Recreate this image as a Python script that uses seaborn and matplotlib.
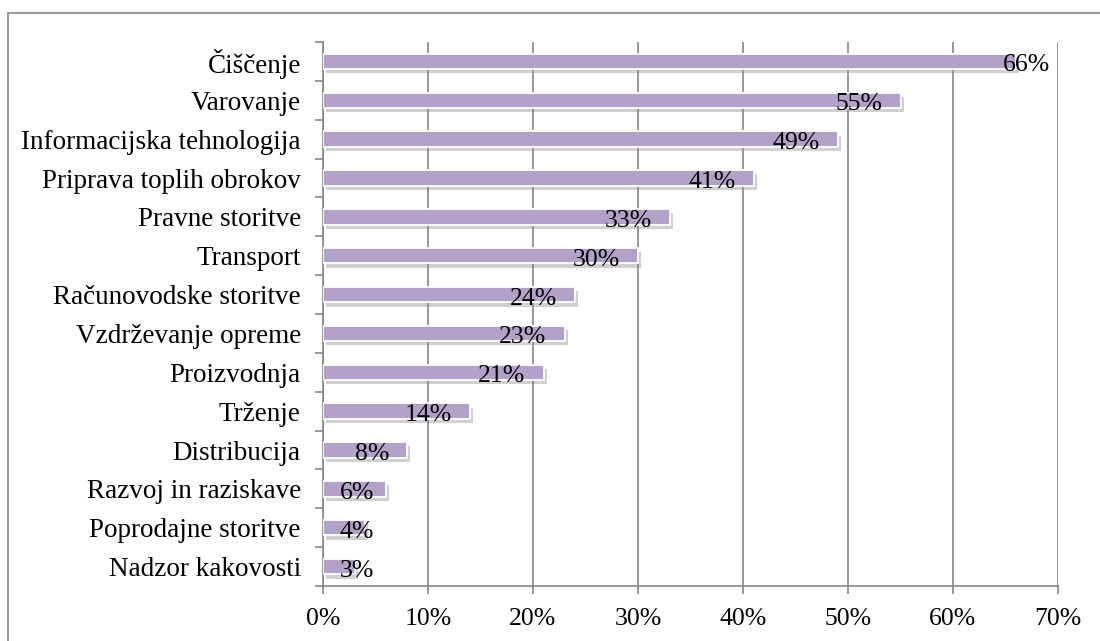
import matplotlib
matplotlib.use("Agg")
import matplotlib.pyplot as plt
import matplotlib.patheffects as pe
from matplotlib.patches import Rectangle
from matplotlib.ticker import FixedLocator, PercentFormatter, NullFormatter
import seaborn as sns
import pandas as pd

categories = ["Čiščenje", "Varovanje", "Informacijska tehnologija",
              "Priprava toplih obrokov", "Pravne storitve", "Transport",
              "Računovodske storitve", "Vzdrževanje opreme", "Proizvodnja",
              "Trženje", "Distribucija", "Razvoj in raziskave",
              "Poprodajne storitve", "Nadzor kakovosti"]
values = [66, 55, 49, 41, 33, 30, 24, 23, 21, 14, 8, 6, 4, 3]
x_ticks = [0, 10, 20, 30, 40, 50, 60, 70]

df = pd.DataFrame({"cat": categories, "val": values})

sns.set_theme(style="white")
plt.rcParams["font.family"] = ["Liberation Serif", "DejaVu Serif"]

fig = plt.figure(figsize=(11, 6.41), dpi=100)
ax = fig.add_axes([323/1100, 1 - 586/641, (1058-323)/1100, (586-42)/641])

GRID = "#868686"
BAR = "#B3A2C7"

sns.barplot(data=df, x="val", y="cat", orient="h", color=BAR, width=0.40,
            saturation=1, ax=ax, zorder=3, edgecolor="white", linewidth=1.3)

for p in ax.patches:
    p.set_path_effects([pe.SimplePatchShadow(offset=(2.5, -3), shadow_rgbFace="#8a8a8a", alpha=0.4),
                        pe.Normal()])

ax.set_xlim(0, 70)
ax.xaxis.set_major_locator(FixedLocator(x_ticks))
ax.xaxis.set_major_formatter(PercentFormatter(decimals=0))
ax.grid(axis="x", color=GRID, linewidth=1.2, zorder=0)
ax.grid(axis="y", visible=False)
ax.set_axisbelow(True)
ax.set_xlabel("")
ax.set_ylabel("")

for s in ["top", "right"]:
    ax.spines[s].set_visible(False)
for s in ["left", "bottom"]:
    ax.spines[s].set_color(GRID)
    ax.spines[s].set_linewidth(1.2)

ax.tick_params(axis="x", which="major", direction="out", length=6, width=1.2,
               color=GRID, bottom=True, labelsize=18.5, pad=10, labelcolor="black")
ax.tick_params(axis="y", which="major", length=0, labelsize=19.5, pad=16, labelcolor="black")
n = len(categories)
ax.yaxis.set_minor_locator(FixedLocator([i - 0.5 for i in range(n + 1)]))
ax.yaxis.set_minor_formatter(NullFormatter())
ax.tick_params(axis="y", which="minor", direction="out", length=6, width=1.2,
               color=GRID, left=True)

# data labels
for i, v in enumerate(values):
    if v == max(values):
        ax.annotate(f"{v}%", xy=(v, i), xytext=(-13, -4), textcoords="offset pixels",
                    ha="left", va="center", fontsize=18.5, color="black", zorder=5)
    elif v < 7:
        ax.annotate(f"{v}%", xy=(0, i), xytext=(17, -4), textcoords="offset pixels",
                    ha="left", va="center", fontsize=18.5, color="black", zorder=5)
    else:
        ax.annotate(f"{v}%", xy=(v, i), xytext=(-18, -4), textcoords="offset pixels",
                    ha="right", va="center", fontsize=18.5, color="black", zorder=5)

# outer chart border
fig.patches.append(Rectangle((8/1100, -0.1), 1.2, 1 - 13/641 + 0.1,
                             transform=fig.transFigure, fill=False,
                             edgecolor=GRID, linewidth=1.2))

fig.savefig("out.png", dpi=100)
